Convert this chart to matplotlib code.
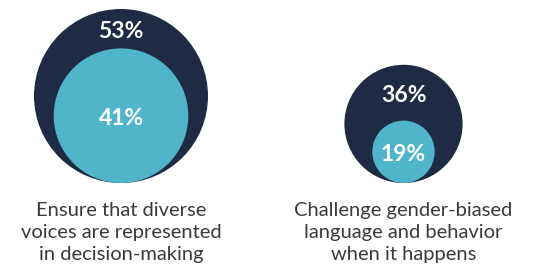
import matplotlib
matplotlib.use("Agg")
import matplotlib.pyplot as plt
from matplotlib.patches import Circle

# data
labels = ["Ensure that diverse\nvoices are represented\nin decision-making",
          "Challenge gender-biased\nlanguage and behavior\nwhen it happens"]
outer_vals = [53, 36]
inner_vals = [41, 19]

navy = "#1f2a45"
teal = "#50b4cb"
text_col = "#3a3a3a"

W, H = 535, 269
fig = plt.figure(figsize=(W / 100, H / 100), dpi=100)
ax = fig.add_axes([0, 0, 1, 1])
ax.set_xlim(0, W)
ax.set_ylim(H, 0)
ax.set_aspect("equal")
ax.axis("off")

centers_x = [121, 403.5]
base_y = 183          # circles sit on a common baseline
k = 87.0 / 53         # radius per percentage point

for cx, ov, iv, lab in zip(centers_x, outer_vals, inner_vals, labels):
    ro, ri = ov * k, iv * k
    ax.add_patch(Circle((cx, base_y - ro), ro, color=navy, lw=0))
    ax.add_patch(Circle((cx, base_y - ri), ri, color=teal, lw=0))
    gap_mid = ((base_y - 2 * ro) + (base_y - 2 * ri)) / 2
    ax.text(cx, gap_mid + 3, f"{ov}%", color="white", fontsize=16.5,
            fontfamily="Lato", fontweight="bold", ha="center", va="center")
    ax.text(cx, base_y - ri + 2.5, f"{iv}%", color="white", fontsize=16.5,
            fontfamily="Lato", fontweight="bold", ha="center", va="center")
    ax.text(cx, 202, lab, color=text_col, fontsize=14.5, fontfamily="Lato",
            ha="center", va="top", linespacing=1.35)

fig.savefig("out.png", dpi=100)
